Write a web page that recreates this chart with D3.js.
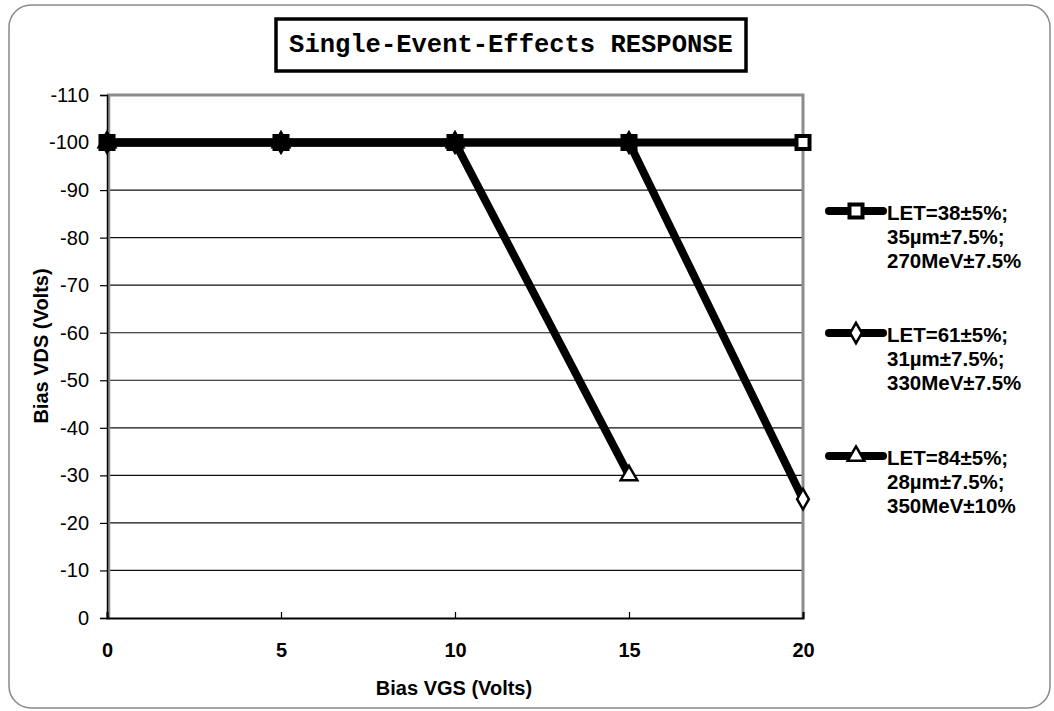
<!DOCTYPE html>
<html>
<head>
<meta charset="utf-8">
<script src="https://cdn.jsdelivr.net/npm/d3@7"></script>
<style>
  body { margin: 0; background: #fff; }
  svg { display: block; font-family: "Liberation Sans", Arial, sans-serif; }
</style>
</head>
<body>
<svg id="chart" width="1054" height="711"></svg>
<script>
// data
const vgs = [0, 5, 10, 15, 20];
const yTicks = [0, -10, -20, -30, -40, -50, -60, -70, -80, -90, -100, -110];
const let38 = [-100, -100, -100, -100, -100];
const let61 = [-100, -100, -100, -100, -25];
const let84 = [-100, -100, -100, -30];
const labels38 = ['LET=38±5%;', '35µm±7.5%;', '270MeV±7.5%'];
const labels61 = ['LET=61±5%;', '31µm±7.5%;', '330MeV±7.5%'];
const labels84 = ['LET=84±5%;', '28µm±7.5%;', '350MeV±10%'];

const series = [
  {name: 'let38', values: let38, marker: 'square', labels: labels38},
  {name: 'let61', values: let61, marker: 'diamond', labels: labels61},
  {name: 'let84', values: let84, marker: 'triangle', labels: labels84}
];

const svg = d3.select('#chart');
const plotL = 107, plotR = 803, plotT = 95, plotB = 618;

const x = d3.scaleLinear().domain([0, 20]).range([plotL, plotR]);
const y = d3.scaleLinear().domain([0, -110]).range([plotB, plotT]);

// outer rounded frame
svg.append('rect')
  .attr('x', 9).attr('y', 5)
  .attr('width', 1041).attr('height', 703)
  .attr('rx', 22)
  .attr('fill', 'none')
  .attr('stroke', '#8a8a8a')
  .attr('stroke-width', 1.5);

// title box
svg.append('rect')
  .attr('x', 276).attr('y', 19)
  .attr('width', 470).attr('height', 52)
  .attr('fill', '#fff')
  .attr('stroke', '#000')
  .attr('stroke-width', 3.5);
svg.append('text')
  .attr('x', 511).attr('y', 52)
  .attr('text-anchor', 'middle')
  .style('font-family', '"Liberation Mono", "Courier New", monospace')
  .style('font-weight', 'bold')
  .style('font-size', '25.5px')
  .text('Single-Event-Effects RESPONSE');

// gridlines
svg.append('g')
  .selectAll('line')
  .data(yTicks.filter(d => d !== 0 && d !== -110))
  .enter()
  .append('line')
  .attr('x1', plotL).attr('x2', plotR)
  .attr('y1', d => y(d)).attr('y2', d => y(d))
  .attr('stroke', '#111')
  .attr('stroke-width', 1.2);

// plot area border (grey) on top and right
svg.append('path')
  .attr('d', `M${plotL},${plotT}H${plotR}V${plotB}`)
  .attr('fill', 'none')
  .attr('stroke', '#8c8c8c')
  .attr('stroke-width', 3);
svg.append('line')
  .attr('x1', plotL + 2).attr('x2', plotL + 2)
  .attr('y1', plotT).attr('y2', plotB)
  .attr('stroke', '#8c8c8c')
  .attr('stroke-width', 2.5);

// y axis
const yAxis = d3.axisLeft(y).tickValues(yTicks).tickSize(7).tickPadding(11)
  .tickFormat(d => String(d));
const gy = svg.append('g').attr('transform', `translate(${plotL},0)`).call(yAxis);
gy.select('.domain').attr('stroke', '#000').attr('stroke-width', 1.5);
gy.selectAll('.tick line').attr('stroke', '#000').attr('stroke-width', 1.2);
gy.selectAll('.tick text')
  .style('font-size', '20px')
  .style('font-family', '"Liberation Sans", Arial, sans-serif')
  .attr('fill', '#000');

// x axis (ticks point inward)
const xAxis = d3.axisBottom(x).tickValues(vgs).tickSize(-6).tickPadding(25);
const gx = svg.append('g').attr('transform', `translate(0,${plotB})`).call(xAxis);
gx.select('.domain').attr('stroke', '#000').attr('stroke-width', 2);
gx.selectAll('.tick line').attr('stroke', '#000').attr('stroke-width', 1.2);
gx.selectAll('.tick text')
  .style('font-size', '20px')
  .style('font-weight', 'bold')
  .style('font-family', '"Liberation Sans", Arial, sans-serif')
  .attr('fill', '#000');

// axis titles
svg.append('text')
  .attr('x', 454).attr('y', 695)
  .attr('text-anchor', 'middle')
  .style('font-weight', 'bold')
  .style('font-size', '20px')
  .text('Bias VGS (Volts)');
svg.append('text')
  .attr('transform', 'translate(48,346) rotate(-90)')
  .attr('text-anchor', 'middle')
  .style('font-weight', 'bold')
  .style('font-size', '20px')
  .text('Bias VDS (Volts)');

const symbols = {
  square: d3.symbol().type(d3.symbolSquare).size(170),
  diamond: d3.symbol().type(d3.symbolDiamond).size(120),
  triangle: d3.symbol().type(d3.symbolTriangle).size(120)
};

const line = d3.line().x(d => x(d.x)).y(d => y(d.y));

// lines
series.forEach(s => {
  const pts = s.values.map((v, i) => ({x: vgs[i], y: v}));
  svg.append('path')
    .datum(pts)
    .attr('d', line)
    .attr('fill', 'none')
    .attr('stroke', '#000')
    .attr('stroke-width', 8)
    .attr('stroke-linejoin', 'round');
});

// markers, squares last so they sit on top
series.slice().reverse().forEach(s => {
  const pts = s.values.map((v, i) => ({x: vgs[i], y: v}));
  svg.append('g')
    .selectAll('path')
    .data(pts)
    .enter()
    .append('path')
    .attr('d', symbols[s.marker])
    .attr('transform', d => `translate(${x(d.x)},${y(d.y)})`)
    .attr('fill', d => d.y === -100 && d.x < 20 ? '#000' : '#fff')
    .attr('stroke', '#000')
    .attr('stroke-width', s.marker === 'square' ? 4 : 2.5);
});

// legend
const legendY = [211, 333, 456];
series.forEach((s, i) => {
  const g = svg.append('g').attr('transform', `translate(0,${legendY[i]})`);
  g.append('line')
    .attr('x1', 829).attr('x2', 883)
    .attr('y1', 0).attr('y2', 0)
    .attr('stroke', '#000')
    .attr('stroke-width', 8)
    .attr('stroke-linecap', 'round');
  g.append('path')
    .attr('d', symbols[s.marker])
    .attr('transform', 'translate(856,0)')
    .attr('fill', '#fff')
    .attr('stroke', '#000')
    .attr('stroke-width', s.marker === 'square' ? 4 : 2.5);
  g.selectAll('text.lbl')
    .data(s.labels)
    .enter()
    .append('text')
    .attr('class', 'lbl')
    .attr('x', 887)
    .attr('y', (d, j) => 9 + j * 24)
    .style('font-weight', 'bold')
    .style('font-size', '20.5px')
    .text(d => d);
});
</script>
</body>
</html>
